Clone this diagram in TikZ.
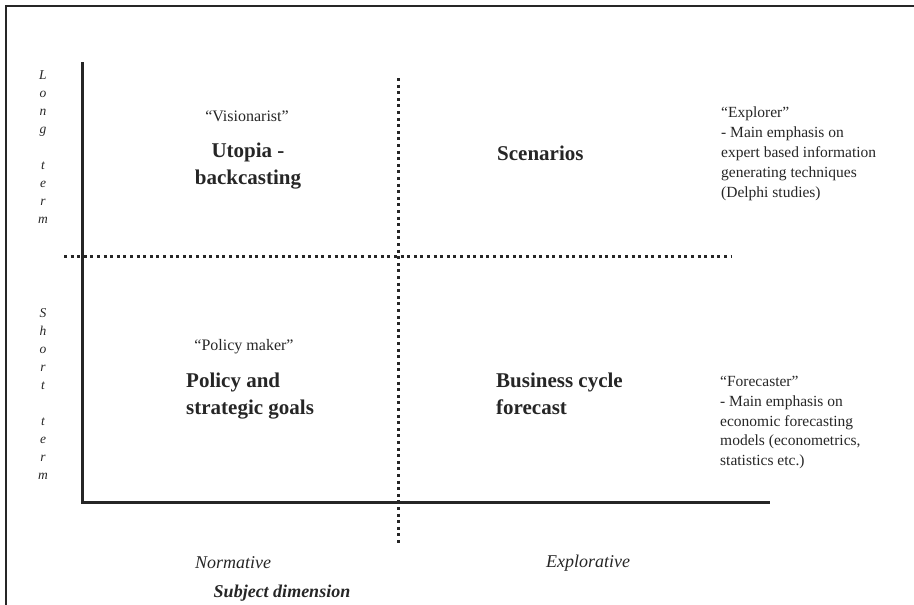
\documentclass[tikz,border=0pt]{standalone}
\usepackage{fontspec}
\setmainfont{Liberation Serif}
\begin{document}
\begin{tikzpicture}[x=1pt,y=-1pt,
  frameline/.style={line width=2pt,draw=black!85},
  axisline/.style={line width=3pt,draw=black!85},
  dotline/.style={line width=3pt,draw=black!85,dash pattern=on 3pt off 3.6pt},
  body/.style={font=\fontsize{15.5}{19.8}\selectfont,inner sep=0pt,align=left,text=black!85},
  quote/.style={font=\fontsize{16}{20}\selectfont,inner sep=0pt,text=black!85},
  big/.style={font=\fontsize{21}{27}\selectfont\bfseries,inner sep=0pt,text=black!85},
  vlab/.style={font=\fontsize{13.5}{18}\selectfont\itshape,inner sep=0pt,align=center,text=black!85},
  axlab/.style={font=\fontsize{18}{20}\selectfont\itshape,inner sep=0pt,text=black!85}]
\useasboundingbox (0,0) rectangle (914,605);
% frame
\coordinate (f1) at (6,605);
\coordinate (f2) at (6,6);
\coordinate (f3) at (914,6);
\draw[frameline] (f1) -- (f2) -- (f3);
% axes
\coordinate (ytop) at (82,62);
\coordinate (orig) at (82,502);
\coordinate (xend) at (770,502);
\draw[axisline] (ytop) -- (orig) -- (xend);
% dotted dividers
\coordinate (hl) at (64,256);
\coordinate (hr) at (731,256);
\coordinate (vt) at (398,78);
\coordinate (vb) at (398,546);
\draw[dotline] (hl) -- (hr);
\draw[dotline] (vt) -- (vb);
% vertical labels
\node[vlab,anchor=north] (lt) at (43,70) {L\\o\\n\\g\\[18pt]t\\e\\r\\m};
\node[vlab,anchor=north] (st) at (43,308) {S\\h\\o\\r\\t\\[18pt]t\\e\\r\\m};
% quadrant top-left
\node[quote] (vis) at (247,116) {``Visionarist''};
\node[big,align=center] (uto) at (248,166) {Utopia -\\backcasting};
% top-right
\node[big,anchor=west] (scen) at (497,153) {Scenarios};
\node[body,anchor=north west] (expl) at (721,107) {``Explorer''\\- Main emphasis on\\expert based information\\generating techniques\\(Delphi studies)};
% bottom-left
\node[quote] (pm) at (244,347) {``Policy maker''};
\node[big,align=left,anchor=north west] (pol) at (186,373) {Policy and\\strategic goals};
% bottom-right
\node[big,align=left,anchor=north west] (bus) at (496,373) {Business cycle\\forecast};
\node[body,anchor=north west] (fore) at (720,376) {``Forecaster''\\- Main emphasis on\\economic forecasting\\models (econometrics,\\statistics etc.)};
% axis labels
\node[axlab] (norm) at (233,563) {Normative};
\node[axlab] (explo) at (588,563) {Explorative};
\node[axlab,font=\fontsize{18}{20}\selectfont\bfseries\itshape] (subj) at (282,593) {Subject dimension};
\end{tikzpicture}
\end{document}
